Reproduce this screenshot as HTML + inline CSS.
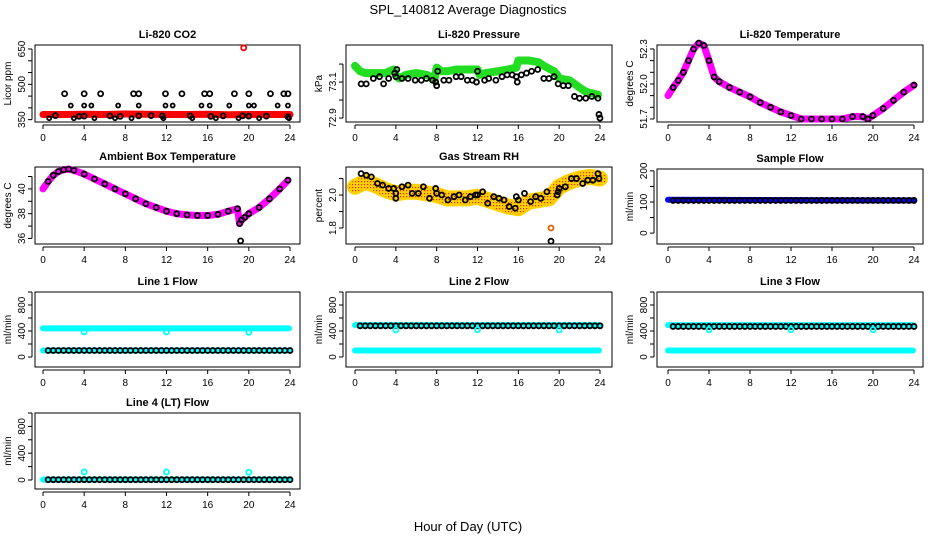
<!DOCTYPE html>
<html><head><meta charset="utf-8">
<style>
html,body{margin:0;padding:0;background:#fff;}
svg{display:block;font-family:"Liberation Sans",sans-serif;}
</style></head>
<body>
<svg id="chart" width="936" height="540" viewBox="0 0 936 540" xmlns="http://www.w3.org/2000/svg">
<defs>
<pattern id="rhpat" width="3" height="3" patternUnits="userSpaceOnUse">
<rect width="3" height="3" fill="#ffd000"/><rect x="1" y="1" width="1.2" height="1.2" fill="#e23000"/>
</pattern>
</defs>
<text x="468" y="14" font-size="13" text-anchor="middle">SPL_140812  Average Diagnostics</text>
<text x="468" y="531" font-size="13" text-anchor="middle">Hour of Day (UTC)</text>
</svg>
<script>
// ---- data ----
const xTicks=[0,4,8,12,16,20,24];
// CO2
const co2LineHours=[0,2,4,6,8,10,12,14,16,18,20,22,24];
const co2LineVals=[372,372,373,372,374,373,372,372,373,371,372,372,372];
const co2CircHours=[2.1,4,5.6,8.8,9.3,11.9,13.5,15.7,16.2,18.6,20,22.1,23.4,23.8,1.2,3.5,4,6.5,7.5,9.3,10.5,11.6,14.3,16.3,17.5,19.4,20,21.7,23.8];
const co2CircVals=[460,460,460,460,460,460,460,460,460,460,460,460,460,460,367,364,365,366,364,366,367,366,366,364,366,366,365,365,362];
const co2SqHours=[2.7,4,4.7,7.3,9.3,11.9,12.6,15.4,16.2,18.1,20,20.5,22.8,23.8,0.6,3,5,7,8.6,11.7,14.5,16.8,19,21,23.9];
const co2SqVals=[410,410,410,410,410,410,410,410,410,410,410,410,410,410,356,356,356,356,356,356,356,356,356,356,356];
const co2OutHour=[19.5];const co2OutVal=[655];
// Pressure
const prHours=[0,0.5,1,2,3,3.8,4,4.3,5,6,7,7.8,8,8.5,9,10,11,12,12.2,12.8,14,15,15.8,16,16.3,17,18,18.5,19.5,19.8,20,21,22,22.5,23,23.8];
const prVals=[73.19,73.16,73.15,73.15,73.15,73.17,73.14,73.12,73.14,73.15,73.14,73.12,73.18,73.16,73.16,73.17,73.17,73.17,73.14,73.15,73.16,73.17,73.18,73.22,73.22,73.22,73.21,73.19,73.16,73.14,73.12,73.11,73.07,73.05,73.04,73.03];
const prBlkHours=[0.6,1.1,1.8,2.4,2.8,3.3,3.9,4,4.1,4.6,5.2,5.9,6.5,7,7.6,7.9,8,8.1,8.7,9.2,9.9,10.4,11,11.5,11.9,12,12.7,13.1,13.8,14.4,14.9,15.4,15.8,15.9,16.3,16.8,17.3,17.9,18.5,19,19.5,19.9,20.4,20.9,21.5,22,22.6,23.2,23.8,23.9,24];
const prBlkVals=[73.09,73.09,73.12,73.13,73.09,73.12,73.15,73.13,73.17,73.12,73.12,73.11,73.11,73.12,73.11,73.1,73.08,73.16,73.11,73.11,73.13,73.13,73.11,73.11,73.1,73.16,73.11,73.12,73.11,73.13,73.14,73.14,73.13,73.1,73.14,73.15,73.16,73.17,73.12,73.12,73.13,73.09,73.08,73.08,73.02,73.01,73.01,73.02,73.01,72.92,72.90];
// Li-820 temperature
const ltHours=[0,0.5,1,1.5,2,2.5,3,3.5,4,4.5,5,6,7,8,9,10,11,12,13,14,15,16,17,18,19,19.5,20,21,22,23,24];
const ltVals=[51.9,51.97,52.03,52.1,52.2,52.3,52.35,52.33,52.2,52.06,52.02,51.97,51.93,51.89,51.84,51.8,51.76,51.73,51.7,51.7,51.7,51.7,51.7,51.72,51.72,51.7,51.73,51.79,51.86,51.93,51.99];
// Ambient box temperature
const abHours=[0,0.5,1,1.5,2,2.5,3,4,5,6,7,8,9,10,11,12,13,14,15,16,17,18,18.9,19.1,19.3,19.6,20,21,22,23,23.8];
const abVals=[40,40.6,41.1,41.4,41.55,41.6,41.5,41.2,40.8,40.4,40,39.6,39.2,38.8,38.5,38.2,38,37.9,37.85,37.85,37.95,38.2,38.4,37.2,37.5,37.7,38,38.5,39.2,40,40.7];
const abOutHour=[19.2];const abOutVal=[35.8];
// Gas stream RH
const rhHours=[0,1,2,3,4,5,6,7,8,9,10,11,12,13,14,15,16,17,18,19,20,21,22,23,24];
const rhVals=[2.05,2.08,2.06,2.03,2.01,2.02,2.02,2.01,2.0,1.98,1.98,1.98,1.99,1.97,1.95,1.93,1.92,1.96,1.97,1.98,2.05,2.08,2.1,2.11,2.1];
const rhBlkHours=[0.6,1.1,1.6,2.2,2.7,3.3,3.8,4,4,4.6,5.2,5.6,6.2,6.7,7.3,7.9,8,8.5,9.1,9.7,10.2,10.8,11.3,11.8,12,12.5,13,13.6,14.1,14.6,15.1,15.7,15.8,16,16.6,17.2,17.7,18.2,18.8,19.2,19.8,19.9,20,20.6,21.2,21.7,22.3,22.8,23.3,23.8,23.9];
const rhBlkVals=[2.13,2.12,2.11,2.07,2.06,2.04,2.04,2.01,1.98,2.05,2.06,2.01,2.01,2.05,1.98,2.04,2.01,2.0,1.97,1.99,2.0,1.97,1.99,2.0,2.0,2.02,1.95,1.99,1.98,1.97,1.93,1.92,1.99,1.97,2.01,1.96,1.99,1.98,2.02,1.72,2.0,2.02,2.04,2.05,2.1,2.1,2.07,2.09,2.09,2.13,2.1];
const rhOutHour=[19.2];const rhOutVal=[1.8];
// flows (hourly markers)
const flowHours=[0.5,1,1.5,2,2.5,3,3.5,4,4.5,5,5.5,6,6.5,7,7.5,8,8.5,9,9.5,10,10.5,11,11.5,12,12.5,13,13.5,14,14.5,15,15.5,16,16.5,17,17.5,18,18.5,19,19.5,20,20.5,21,21.5,22,22.5,23,23.5,24];
const sampleCyanHours=[0,24];const sampleBlue=[107,105];const sampleBlack=105;
const line1Cyan=[440,100];const line1Black=100;const line1DipHours=[4,12,20];const line1DipVals=[385,385,380];
const line2Cyan=[490,100];const line2Black=480;const line2DipVals=[415,420,415];
const line3Cyan=[490,100];const line3Black=470;const line3DipVals=[420,420,420];
const line4Cyan=[5];const line4Black=5;const line4BumpVals=[120,120,115];

// ---- drawing ----
const NS="http://www.w3.org/2000/svg";
const svg=document.getElementById('chart');
function el(tag,attrs,parent){const e=document.createElementNS(NS,tag);for(const k in attrs)e.setAttribute(k,attrs[k]);(parent||svg).appendChild(e);return e;}
const cols=[{l:35,r:300,x0:43,x24:290},{l:346,r:612,x0:355,x24:600},{l:657,r:923,x0:668,x24:914}];
function panel(name,col,top,bot,yTop,yBot,ticks,labels,title,ylab,dec){
  const c=cols[col];
  const g=el('g',{});
  
  
  const sx=h=>c.x0+(c.x24-c.x0)*h/24;
  const sy=v=>top+(bot-top)*(yTop-v)/(yTop-yBot);
  const t=el('text',{x:(c.l+c.r)/2,y:top-7,'font-size':11,'font-weight':'bold','text-anchor':'middle'},g);
  t.textContent=title;
  
  
  const b=el('rect',{x:c.l,y:top,width:c.r-c.l,height:bot-top,fill:'none',stroke:'#000','stroke-width':1},g);
  
  
  const xa=el('g',{},g);
  
  
  el('line',{x1:sx(0),x2:sx(24),y1:bot+3,y2:bot+3,stroke:'#000'},xa);
  xTicks.forEach(h=>{el('line',{x1:sx(h),x2:sx(h),y1:bot+3,y2:bot+7,stroke:'#000'},xa);
    const tx=el('text',{x:sx(h),y:bot+19,'font-size':10,'text-anchor':'middle'},xa);tx.textContent=h;});
  const ya=el('g',{},g);
  
  
  el('line',{x1:c.l-3,x2:c.l-3,y1:sy(ticks[ticks.length-1]),y2:sy(ticks[0]),stroke:'#000'},ya);
  ticks.forEach(v=>{el('line',{x1:c.l-3,x2:c.l-7,y1:sy(v),y2:sy(v),stroke:'#000'},ya);});
  labels.forEach(v=>{const y=sy(v);const tx=el('text',{x:c.l-10,y:y,'font-size':10,'text-anchor':'middle',transform:`rotate(-90 ${c.l-10} ${y})`},ya);tx.textContent=dec?v.toFixed(dec):v;});
  const yl=el('text',{x:c.l-24,y:(top+bot)/2,'font-size':10,'text-anchor':'middle',transform:`rotate(-90 ${c.l-24} ${(top+bot)/2})`},g);
  yl.textContent=ylab;
  
  
  return {g,sx,sy,c};
}
function band(p,hs,vs,color,w,name){
  const pl=el('polyline',{points:hs.map((h,i)=>p.sx(h)+','+p.sy(vs[i])).join(' '),fill:'none',stroke:color,'stroke-width':w,'stroke-linejoin':'round','stroke-linecap':'round'},p.g);
  
  
}
function circles(p,hs,vs,color,name,r){
  const g=el('g',{},p.g);
  
  
  hs.forEach((h,i)=>el('circle',{cx:p.sx(h),cy:p.sy(vs[i]),r:r||2.5,fill:'none',stroke:color,'stroke-width':1.8},g));
}
const rep=(v,n)=>Array(n).fill(v);

// CO2
let p=panel('co2',0,45,122,667,340,[350,400,450,500,550,600,650],[350,500,650],'Li-820 CO2','Licor ppm');
band(p,co2LineHours,co2LineVals,'#ff0000',7,'co2-red-series');
circles(p,co2CircHours,co2CircVals,'#000','co2-black-points');
circles(p,co2SqHours,co2SqVals,'#000','co2-square-points',2);
circles(p,co2OutHour,co2OutVal,'#ff0000','co2-outlier');
// Pressure
p=panel('pressure',1,45,122,73.306,72.878,[72.9,73.0,73.1,73.2],[72.9,73.1],'Li-820 Pressure','kPa',1);
band(p,prHours,prVals,'#22dd22',8,'pressure-green-series');
circles(p,prBlkHours,prBlkVals,'#000','pressure-black-points');
// Li temp
p=panel('li820-temp',2,45,122,52.334,51.674,[51.7,51.8,51.9,52.0,52.1,52.2,52.3],[51.7,52.0,52.3],'Li-820 Temperature','degrees C',1);
band(p,ltHours,ltVals,'#ff00ff',7,'li820-temp-magenta-series');
circles(p,ltHours.slice(1),ltVals.slice(1),'#000','li820-temp-black-points');
// Ambient
p=panel('ambient-temp',0,167,244,41.77,35.55,[36,37,38,39,40,41],[36,38,40],'Ambient Box Temperature','degrees C');
band(p,abHours,abVals,'#ff00ff',7,'ambient-magenta-series');
circles(p,abHours.slice(1),abVals.slice(1),'#000','ambient-black-points');
circles(p,abOutHour,abOutVal,'#000','ambient-outlier');
// RH
p=panel('rh',1,167,244,2.17,1.703,[1.8,1.9,2.0,2.1],[1.8,2.0],'Gas Stream RH','percent',1);
band(p,rhHours,rhVals,'#ffd000',16,'rh-band');
band(p,rhHours,rhVals,'url(#rhpat)',12,'rh-band-texture');
circles(p,rhBlkHours,rhBlkVals,'#000','rh-black-points');
circles(p,rhOutHour,rhOutVal,'#e06000','rh-outlier');
// Sample flow
p=panel('sample-flow',2,169,244,206,-35,[0,50,100,150,200],[0,100,200],'Sample Flow','ml/min');
band(p,sampleCyanHours,sampleBlue,'#0000ff',6,'sample-flow-blue-series');
circles(p,flowHours,rep(sampleBlack,flowHours.length),'#000','sample-flow-black-points');
// Line flows
function flowPanel(name,col,top,bot,zero,title,cyanLevels,black,dipVals){
  const yTop=1000;
  const yBot=-1000*(bot-zero)/(zero-top);
  const q=panel(name,col,top,bot,yTop,yBot,[0,200,400,600,800,1000],[0,400,800],title,'ml/min');
  cyanLevels.forEach((v,i)=>band(q,[0,23.9],[v,v],'#00ffff',6,name+'-cyan-series-'+(i+1)));
  circles(q,flowHours,rep(black,flowHours.length),'#000',name+'-black-points');
  circles(q,line1DipHours,dipVals,'#00ffff',name+'-cyan-dips');
}
flowPanel('line1-flow',0,292,367,357,'Line 1 Flow',line1Cyan,line1Black,line1DipVals);
flowPanel('line2-flow',1,292,367,357,'Line 2 Flow',line2Cyan,line2Black,line2DipVals);
flowPanel('line3-flow',2,292,367,357,'Line 3 Flow',line3Cyan,line3Black,line3DipVals);
flowPanel('line4-flow',0,413,489,480,'Line 4 (LT) Flow',line4Cyan,line4Black,line4BumpVals);
</script>
</body></html>
